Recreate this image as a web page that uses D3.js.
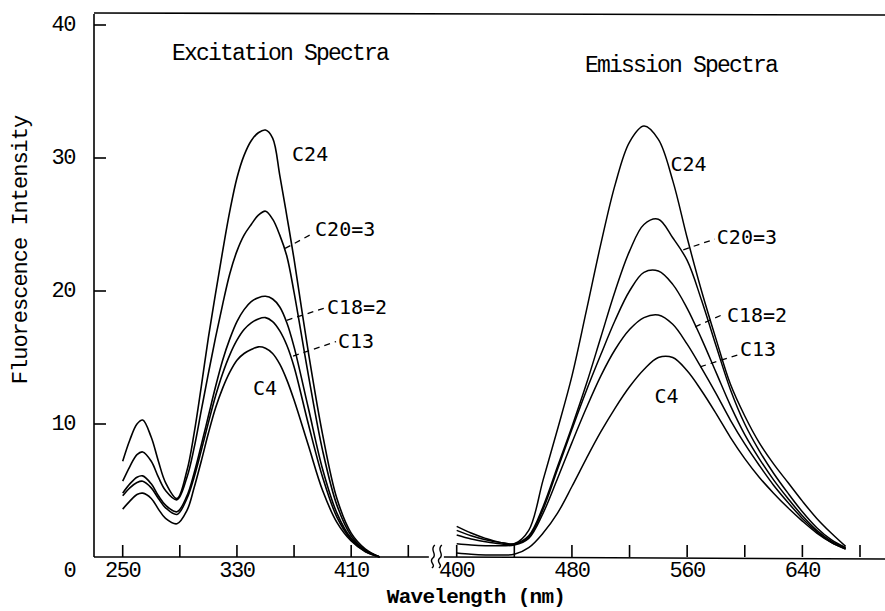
<!DOCTYPE html>
<html>
<head>
<meta charset="utf-8">
<script src="https://cdn.jsdelivr.net/npm/d3@7"></script>
<style>
  body { margin: 0; background: #fff; }
  svg { display: block; }
</style>
</head>
<body>
<script>

// excitation spectra (nm, intensity)
const exWavelengths = [250, 255, 260, 264, 270, 275, 280, 288, 295, 300, 305, 310, 315, 320, 325, 330, 335, 340, 345, 350, 355, 360, 365, 370, 380, 390, 400, 410, 420, 430]
const exC24 = [7.2, 8.8, 10.0, 10.3, 9.0, 7.2, 5.6, 4.4, 6.5, 9.3, 12.8, 16.5, 19.8, 23.0, 26.0, 28.5, 30.2, 31.3, 31.9, 32.1, 31.5, 28.7, 25.6, 22.4, 15.4, 9.2, 4.4, 1.8, 0.6, 0]
const exC20 = [5.7, 6.8, 7.7, 7.9, 7.2, 6.0, 5.0, 4.3, 6.0, 8.2, 11.0, 13.8, 16.5, 19.0, 21.3, 23.0, 24.2, 25.0, 25.7, 26.0, 25.4, 24.2, 22.6, 19.9, 13.7, 8.0, 3.9, 1.6, 0.5, 0]
const exC18 = [4.8, 5.5, 6.0, 6.1, 5.5, 4.6, 3.9, 3.4, 4.6, 6.3, 8.4, 10.6, 12.8, 14.8, 16.4, 17.7, 18.6, 19.2, 19.5, 19.6, 19.4, 18.8, 17.6, 15.8, 11.2, 6.6, 3.3, 1.4, 0.5, 0]
const exC13 = [4.6, 5.2, 5.6, 5.7, 5.2, 4.4, 3.7, 3.2, 4.4, 6.0, 8.0, 10.1, 12.1, 13.8, 15.2, 16.3, 17.1, 17.6, 17.9, 18.0, 17.7, 17.0, 15.9, 14.3, 10.0, 6.0, 3.0, 1.3, 0.4, 0]
const exC4 = [3.6, 4.2, 4.7, 4.8, 4.4, 3.6, 2.9, 2.5, 3.5, 5.2, 7.2, 9.3, 11.2, 12.7, 13.9, 14.8, 15.3, 15.6, 15.8, 15.7, 15.3, 14.5, 13.3, 11.8, 8.4, 5.0, 2.6, 1.2, 0.4, 0]

// emission spectra (nm, intensity)
const emWavelengths = [400, 410, 420, 430, 440, 450, 460, 470, 480, 490, 500, 510, 520, 530, 540, 550, 560, 570, 580, 590, 600, 610, 620, 630, 640, 650, 660, 670]
const emC24 = [2.3, 1.8, 1.4, 1.1, 1.0, 2.0, 5.8, 9.6, 13.6, 18.5, 23.5, 28.0, 31.2, 32.4, 31.4, 28.3, 24.0, 20.0, 16.4, 13.0, 10.6, 8.6, 7.0, 5.6, 4.2, 2.9, 1.8, 0.8]
const emC20 = [2.0, 1.6, 1.3, 1.1, 1.0, 1.6, 3.8, 6.8, 9.8, 13.0, 16.5, 20.0, 23.0, 25.0, 25.4, 24.0, 22.3, 19.3, 15.9, 12.6, 10.0, 8.0, 6.3, 4.8, 3.4, 2.2, 1.3, 0.7]
const emC18 = [1.65, 1.35, 1.15, 1.0, 0.95, 1.5, 3.6, 6.6, 9.6, 12.5, 15.2, 17.8, 20.0, 21.4, 21.5, 20.5, 18.7, 16.4, 13.9, 11.4, 9.2, 7.4, 5.8, 4.4, 3.1, 2.0, 1.2, 0.7]
const emC13 = [1.0, 0.9, 0.85, 0.85, 0.9, 1.4, 3.3, 5.9, 8.6, 11.2, 13.6, 15.6, 17.1, 18.0, 18.2, 17.5, 16.0, 14.2, 12.3, 10.3, 8.5, 6.9, 5.4, 4.1, 2.9, 1.9, 1.1, 0.6]
const emC4 = [0.3, 0.2, 0.15, 0.15, 0.2, 0.7, 1.8, 3.3, 5.3, 7.4, 9.4, 11.2, 12.8, 14.1, 15.0, 15.0, 14.0, 12.5, 10.8, 9.0, 7.4, 6.0, 4.8, 3.7, 2.7, 1.8, 1.1, 0.6]

// ticks
const yTicks = [10, 20, 30, 40]
const exTicks = [250, 290, 330, 370, 410, 450]
const exTickLabels = [250, 330, 410]
const emTicks = [400, 440, 480, 520, 560, 600, 640, 680]
const emTickLabels = [400, 480, 560, 640]

// curve labels: text position, dashed leader from / to (data units)
const exLabels = [
    {text: "C24", at: [368.6, 29.8]},
    {text: "C20=3", at: [384.7, 24.1], from: [363.7, 23.2], to: [382.6, 24.3]},
    {text: "C18=2", at: [393.0, 18.3], from: [364.8, 17.8], to: [391.0, 18.7]},
    {text: "C13", at: [400.8, 15.7], from: [369.3, 15.1], to: [399.4, 16.2]},
    {text: "C4", at: [341.2, 12.2]}
]
const emLabels = [
    {text: "C24", at: [548.4, 29.0]},
    {text: "C20=3", at: [580.6, 23.5], from: [557.3, 23.1], to: [579.2, 23.9]},
    {text: "C18=2", at: [587.6, 17.7], from: [565.5, 17.3], to: [586.2, 18.3]},
    {text: "C13", at: [596.7, 15.1], from: [569.0, 14.3], to: [595.3, 15.2]},
    {text: "C4", at: [537.3, 11.6]}
]

function drawChart(){

    const width = 885
    const height = 611
    const axisX = 94
    const frameTop = 14

    const mono = "'Liberation Mono', 'Courier New', monospace"
    const sansMono = "'DejaVu Sans Mono', monospace"

    const svg = d3.select("body")
        .append("svg")
        .attr("width", width)
        .attr("height", height)
        .style("background", "#fff")

    // scales
    const yScale = d3.scaleLinear()
        .domain([0, 40])
        .range([557, 25])

    const xEx = d3.scaleLinear()
        .domain([250, 450])
        .range([122.7, 408.3])

    const xEm = d3.scaleLinear()
        .domain([400, 680])
        .range([456.7, 860])

    const y0 = yScale(0)

    // frame: left axis + top line
    svg.append("line")
        .attr("x1", axisX).attr("x2", axisX)
        .attr("y1", frameTop).attr("y2", y0)
        .attr("stroke", "#000").attr("stroke-width", 1.6)

    svg.append("line")
        .attr("x1", axisX).attr("x2", width)
        .attr("y1", frameTop - 1).attr("y2", frameTop + 1)
        .attr("stroke", "#000").attr("stroke-width", 1.6)

    // bottom axis, broken between the two spectra
    const breakX = xEx(470)
    svg.append("line")
        .attr("x1", axisX).attr("x2", breakX - 8)
        .attr("y1", y0).attr("y2", y0)
        .attr("stroke", "#000").attr("stroke-width", 1.6)
    svg.append("line")
        .attr("x1", breakX + 7).attr("x2", width)
        .attr("y1", y0).attr("y2", y0 + 2)
        .attr("stroke", "#000").attr("stroke-width", 1.6)

    ;[-4, 3].forEach(dx => {
        const bx = breakX + dx
        svg.append("path")
            .attr("d", `M${bx + 2},${y0 - 12} C${bx - 4},${y0 - 7} ${bx + 5},${y0 - 3} ${bx},${y0 + 1} C${bx - 5},${y0 + 5} ${bx + 4},${y0 + 8} ${bx - 1},${y0 + 11}`)
            .attr("fill", "none")
            .attr("stroke", "#000")
            .attr("stroke-width", 1.4)
    })

    // y ticks
    svg.selectAll(".ytick")
        .data(yTicks)
        .enter()
        .append("line")
        .attr("x1", axisX).attr("x2", axisX + 12)
        .attr("y1", d => yScale(d)).attr("y2", d => yScale(d))
        .attr("stroke", "#000").attr("stroke-width", 1.6)

    svg.selectAll(".ylabel")
        .data(yTicks)
        .enter()
        .append("text")
        .attr("x", 75)
        .attr("y", d => yScale(d) + 6)
        .attr("text-anchor", "end")
        .style("font-family", mono)
        .style("font-size", "22px")
        .style("letter-spacing", "-1.4px")
        .text(d => d)

    // "0" sits on the x-label line
    svg.append("text")
        .attr("x", 70)
        .attr("y", 577)
        .attr("text-anchor", "middle")
        .style("font-family", mono)
        .style("font-size", "22px")
        .text("0")

    // x ticks, both segments
    const xTickData = exTicks.map(d => xEx(d)).concat(emTicks.map(d => xEm(d)))
    svg.selectAll(".xtick")
        .data(xTickData)
        .enter()
        .append("line")
        .attr("x1", d => d).attr("x2", d => d)
        .attr("y1", y0).attr("y2", y0 - 12)
        .attr("stroke", "#000").attr("stroke-width", 1.6)

    const xLabelData = exTickLabels.map(d => ({v: d, x: xEx(d)}))
        .concat(emTickLabels.map(d => ({v: d, x: xEm(d)})))
    svg.selectAll(".xlabel")
        .data(xLabelData)
        .enter()
        .append("text")
        .attr("x", d => d.x)
        .attr("y", 577)
        .attr("text-anchor", "middle")
        .style("font-family", mono)
        .style("font-size", "22px")
        .style("letter-spacing", "-1.4px")
        .text(d => d.v)

    // axis titles
    svg.append("text")
        .attr("transform", "translate(27, 250) rotate(-90)")
        .attr("text-anchor", "middle")
        .style("font-family", mono)
        .style("font-size", "22px")
        .style("letter-spacing", "-1px")
        .text("Fluorescence Intensity")

    svg.append("text")
        .attr("x", 476)
        .attr("y", 603)
        .attr("text-anchor", "middle")
        .style("font-family", mono)
        .style("font-size", "21px")
        .style("font-weight", "bold")
        .style("letter-spacing", "-0.7px")
        .text("Wavelength (nm)")

    // panel titles
    svg.append("text")
        .attr("x", 172)
        .attr("y", 60)
        .style("font-family", mono)
        .style("font-size", "23px")
        .style("letter-spacing", "-1.8px")
        .text("Excitation Spectra")

    svg.append("text")
        .attr("x", 585)
        .attr("y", 72)
        .style("font-family", mono)
        .style("font-size", "23px")
        .style("letter-spacing", "-1.8px")
        .text("Emission Spectra")

    // curves
    const exSeries = [exC24, exC20, exC18, exC13, exC4]
    const emSeries = [emC24, emC20, emC18, emC13, emC4]

    const exLine = d3.line()
        .x(d => xEx(d[0]))
        .y(d => yScale(d[1]))
        .curve(d3.curveCatmullRom.alpha(0.5))

    const emLine = d3.line()
        .x(d => xEm(d[0]))
        .y(d => yScale(d[1]))
        .curve(d3.curveCatmullRom.alpha(0.5))

    svg.selectAll(".ex-curve")
        .data(exSeries)
        .enter()
        .append("path")
        .attr("d", vals => exLine(vals.map((v, i) => [exWavelengths[i], v])))
        .attr("fill", "none")
        .attr("stroke", "#000")
        .attr("stroke-width", 1.6)

    svg.selectAll(".em-curve")
        .data(emSeries)
        .enter()
        .append("path")
        .attr("d", vals => emLine(vals.map((v, i) => [emWavelengths[i], v])))
        .attr("fill", "none")
        .attr("stroke", "#000")
        .attr("stroke-width", 1.5)

    // curve labels and dashed leaders
    function drawLabels(labels, xScale){
        labels.forEach(l => {
            if (l.from) {
                svg.append("line")
                    .attr("x1", xScale(l.from[0])).attr("y1", yScale(l.from[1]))
                    .attr("x2", xScale(l.to[0])).attr("y2", yScale(l.to[1]))
                    .attr("stroke", "#000")
                    .attr("stroke-width", 1.3)
                    .attr("stroke-dasharray", "6,5")
            }
            svg.append("text")
                .attr("x", xScale(l.at[0]))
                .attr("y", yScale(l.at[1]))
                .style("font-family", sansMono)
                .style("font-size", "20px")
                .text(l.text)
        })
    }

    drawLabels(exLabels, xEx)
    drawLabels(emLabels, xEm)
}

drawChart()
</script>
</body>
</html>
